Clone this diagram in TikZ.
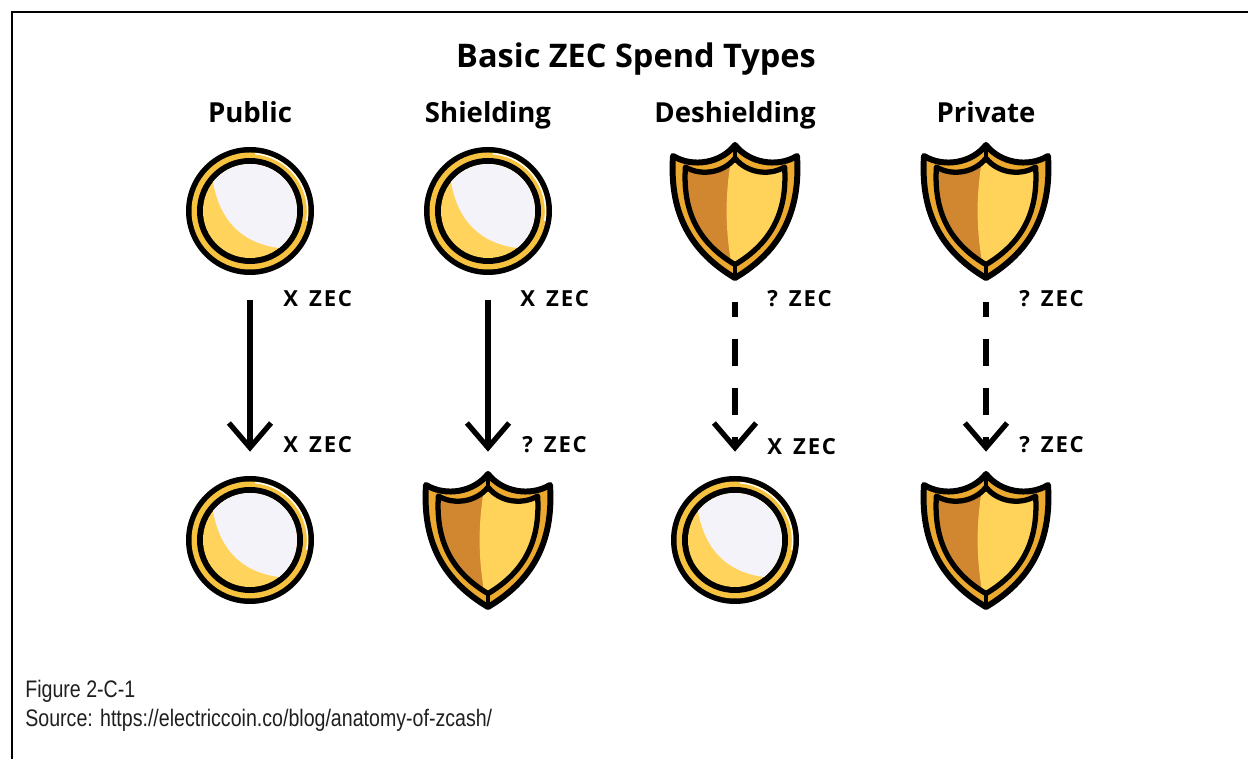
\documentclass[tikz,border=0pt]{standalone}
\usepackage{fontspec}
\setmainfont{Open Sans}
\newfontfamily\amountfont[LetterSpace=8]{Open Sans}
\newfontfamily\capfont[FakeStretch=0.82]{Liberation Sans}
\usetikzlibrary{arrows.meta}

\definecolor{coinring}{HTML}{F7C23F}
\definecolor{coinface}{HTML}{FFD35C}
\definecolor{coinpale}{HTML}{F5F3FA}
\definecolor{shieldrim}{HTML}{EBA92F}
\definecolor{shielddark}{HTML}{D0872F}
\definecolor{shieldlight}{HTML}{FFD25A}

\begin{document}
\begin{tikzpicture}[%
    x=0.02cm, y=-0.02cm,
    icon/.style={minimum width=2.6cm, minimum height=2.72cm, inner sep=0pt},
    heading/.style={anchor=base, font=\bfseries\fontsize{15.7}{18}\selectfont},
    amount/.style={anchor=west, inner sep=0pt, font=\amountfont\bfseries\fontsize{12.6}{15}\selectfont},
    caption/.style={anchor=base west, inner sep=0pt, text=black!88, font=\capfont\fontsize{13.6}{16}\selectfont},
    flow/.style={line width=3pt, -{Straight Barb[length=14pt,width=24pt]}, shorten <=0.42cm, shorten >=0.4cm},
    hidden amount/.style={dash pattern=on 15.3pt off 12.5pt, dash phase=6.8pt, shorten <=0.46cm},
    shieldpath/.style={insert path={(-62,-55) .. controls (-42,-43) and (-14,-48) .. (0,-66)
        .. controls (14,-48) and (42,-43) .. (62,-55)
        .. controls (66,5) and (42,42) .. (0,67)
        .. controls (-42,42) and (-66,5) .. (-62,-55) -- cycle}},
    coin/.pic={
        \fill[black] (0,0) circle (64);
        \fill[coinring] (0,0) circle (58.5);
        \draw[white, line width=0.8pt] (-85:57.5) arc (-85:10:57.5);
        \fill[black] (0,0) circle (53);
        \begin{scope}
            \clip (0,0) circle (47);
            \fill[coinface] (-50,-50) rectangle (50,50);
            \fill[coinpale] (-60,-60) -- (-60,-29) -- (-37,-29) .. controls (-30,10) and (-8,32) .. (29,37) -- (60,37) -- (60,-60) -- cycle;
        \end{scope}
    },
    shield/.pic={
        \draw[line width=3.4pt, line join=round, fill=shieldrim, shieldpath];
        \begin{scope}[scale=0.8]
            \fill[shielddark, shieldpath];
            \begin{scope}
                \clip[shieldpath];
                \fill[shieldlight] (0,-90) .. controls (-14,-25) and (-14,25) .. (0,90) -- (90,90) -- (90,-90) -- cycle;
            \end{scope}
            \draw[line width=3pt, line join=round, shieldpath];
        \end{scope}
        \draw[line width=1.8pt] (0,-66) -- (0,-53) (0,67) -- (0,54);
    }
]
    \useasboundingbox (0,0) rectangle (1248,759);
    \draw[line width=1.3pt] (12,759) -- (12,12) -- (1248,12);

    \node[anchor=base, font=\bfseries\fontsize{18.5}{22}\selectfont] (title) at (636,68) {Basic ZEC Spend Types};

    \foreach \n/\x/\name/\top/\bot in {pub/250/Public/coin/coin, shd/488/Shielding/coin/shield, dsh/735/Deshielding/shield/coin, prv/986/Private/shield/shield} {
        \node[heading] (\n-head) at (\x,123) {\name};
        \node[icon] (\n-in) at (\x,211) {};
        \node[icon] (\n-out) at (\x,540) {};
        \pic at (\n-in) {\top};
        \pic at (\n-out) {\bot};
    }

    \draw[flow] (pub-in) -- (pub-out);
    \draw[flow] (shd-in) -- (shd-out);
    \draw[flow, hidden amount] (dsh-in) -- (dsh-out);
    \draw[flow, hidden amount] (prv-in) -- (prv-out);

    \node[amount] (pub-send) at (283,299) {X\enspace ZEC};
    \node[amount] (pub-get) at (283,445) {X\enspace ZEC};
    \node[amount] (shd-send) at (520,299) {X\enspace ZEC};
    \node[amount] (shd-get) at (522,445) {?\enspace ZEC};
    \node[amount] (dsh-send) at (767,299) {?\enspace ZEC};
    \node[amount] (dsh-get) at (767,447) {X\enspace ZEC};
    \node[amount] (prv-send) at (1019,299) {?\enspace ZEC};
    \node[amount] (prv-get) at (1019,445) {?\enspace ZEC};

    \node[caption] (fig) at (25,698) {Figure 2-C-1};
    \node[caption] (src) at (25,727) {Source: https://electriccoin.co/blog/anatomy-of-zcash/};
\end{tikzpicture}
\end{document}
